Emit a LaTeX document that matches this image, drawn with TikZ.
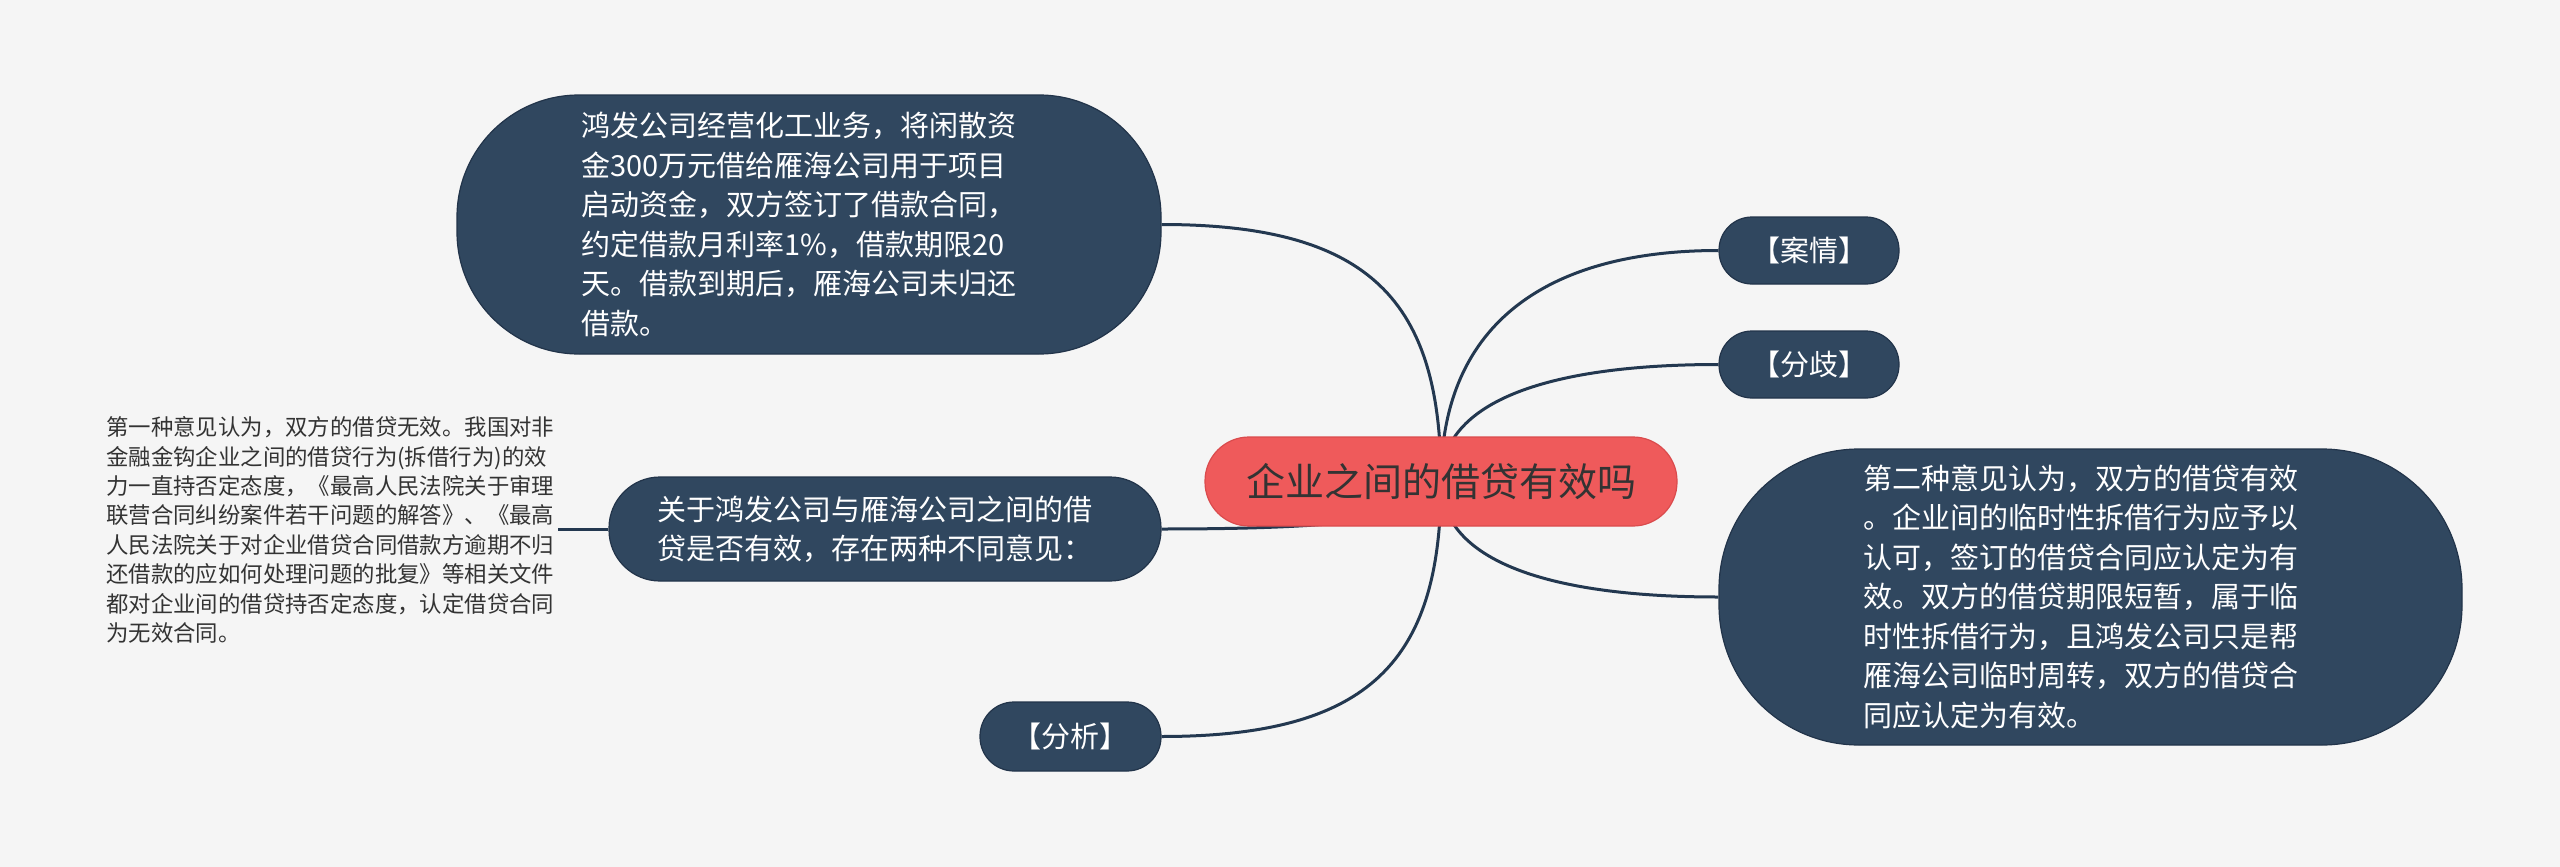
\documentclass[tikz,border=0pt]{standalone}
\usepackage{fontspec}
\setmainfont{Noto Sans CJK SC}
\usetikzlibrary{calc}
\pgfdeclarelayer{bg}
\pgfsetlayers{bg,main}
\definecolor{navy}{HTML}{30475F}
\definecolor{navyedge}{HTML}{22344A}
\definecolor{linec}{HTML}{233850}
\definecolor{redc}{HTML}{EF5A5B}
\definecolor{rededge}{HTML}{DA4B4D}
\definecolor{bgc}{HTML}{F5F5F5}
\definecolor{txt}{HTML}{333333}
\newcommand{\padblock}[1]{\begin{tabular}{@{}l@{\hspace{20pt}}}\noalign{\vspace{6pt}}#1\end{tabular}}
\begin{document}
\begin{tikzpicture}[x=1pt,y=-1pt,
  topic/.style={draw=navyedge, line width=1.2pt, fill=navy, text=white, align=left,
    font=\fontsize{29}{39.5}\selectfont, inner sep=0pt},
  central/.style={draw=rededge, line width=1.2pt, fill=redc, text=txt,
    font=\fontsize{39}{47}\selectfont, inner sep=0pt},
  plain/.style={align=left, text=txt, font=\fontsize{22.4}{29.4}\selectfont, inner sep=4pt},
  linkL/.style={draw=linec, line width=3pt,
    to path={.. controls ($(\tikztostart)!0.7!(\tikztostart|-\tikztotarget)$)
      and ($(\tikztotarget)!0.75!(\tikztostart|-\tikztotarget)$) .. (\tikztotarget)}},
  linkR/.style={draw=linec, line width=3pt,
    to path={.. controls ($(\tikztostart)!0.7!(\tikztostart|-\tikztotarget)$)
      and ($(\tikztotarget)!0.6!(\tikztostart|-\tikztotarget)$) .. (\tikztotarget)}},
  straight/.style={draw=linec, line width=3pt}
]
\useasboundingbox (0,0) rectangle (2560,867);

\node[central, minimum width=472pt, minimum height=89pt, rounded corners=44pt] (c) at (1441,481.5) {企业之间的借贷有效吗};

\node[topic, minimum width=704pt, minimum height=259pt, rounded corners=122pt] (tl) at (809,224.5)
{\padblock{鸿发公司经营化工业务，将闲散资\\金300万元借给雁海公司用于项目\\启动资金，双方签订了借款合同，\\约定借款月利率1\%，借款期限20\\天。借款到期后，雁海公司未归还\\借款。}};

\node[topic, minimum width=180pt, minimum height=67pt, rounded corners=33pt] (an) at (1809,250.5) {【案情】};
\node[topic, minimum width=180pt, minimum height=67pt, rounded corners=33pt] (fq) at (1809,364.5) {【分歧】};

\node[topic, minimum width=743pt, minimum height=296pt, rounded corners=140pt] (rt) at (2090.5,597)
{\padblock{第二种意见认为，双方的借贷有效\\。企业间的临时性拆借行为应予以\\认可，签订的借贷合同应认定为有\\效。双方的借贷期限短暂，属于临\\时性拆借行为，且鸿发公司只是帮\\雁海公司临时周转，双方的借贷合\\同应认定为有效。}};

\node[topic, minimum width=552pt, minimum height=104pt, rounded corners=51pt] (ml) at (885,529)
{\padblock{关于鸿发公司与雁海公司之间的借\\贷是否有效，存在两种不同意见：}};

\node[topic, minimum width=181pt, minimum height=69pt, rounded corners=34pt] (fx) at (1070.5,736.5) {【分析】};

\node[plain, anchor=west] (lt) at (102,530)
{第一种意见认为，双方的借贷无效。我国对非\\金融金钩企业之间的借贷行为(拆借行为)的效\\力一直持否定态度，《最高人民法院关于审理\\联营合同纠纷案件若干问题的解答》、《最高\\人民法院关于对企业借贷合同借款方逾期不归\\还借款的应如何处理问题的批复》等相关文件\\都对企业间的借贷持否定态度，认定借贷合同\\为无效合同。};

\begin{pgfonlayer}{bg}
\fill[bgc] (0,0) rectangle (2560,867);
\draw[linkL] (c.center) to (tl.east);
\draw[linkR] (c.center) to (an.west);
\draw[linkR] (c.center) to (fq.west);
\draw[linkR] (c.center) to (rt.west);
\draw[linkL] (c.center) to (ml.east);
\draw[linkL] (c.center) to (fx.east);
\draw[straight] (lt.east|-ml.west) -- (ml.west);
\end{pgfonlayer}
\end{tikzpicture}
\end{document}
